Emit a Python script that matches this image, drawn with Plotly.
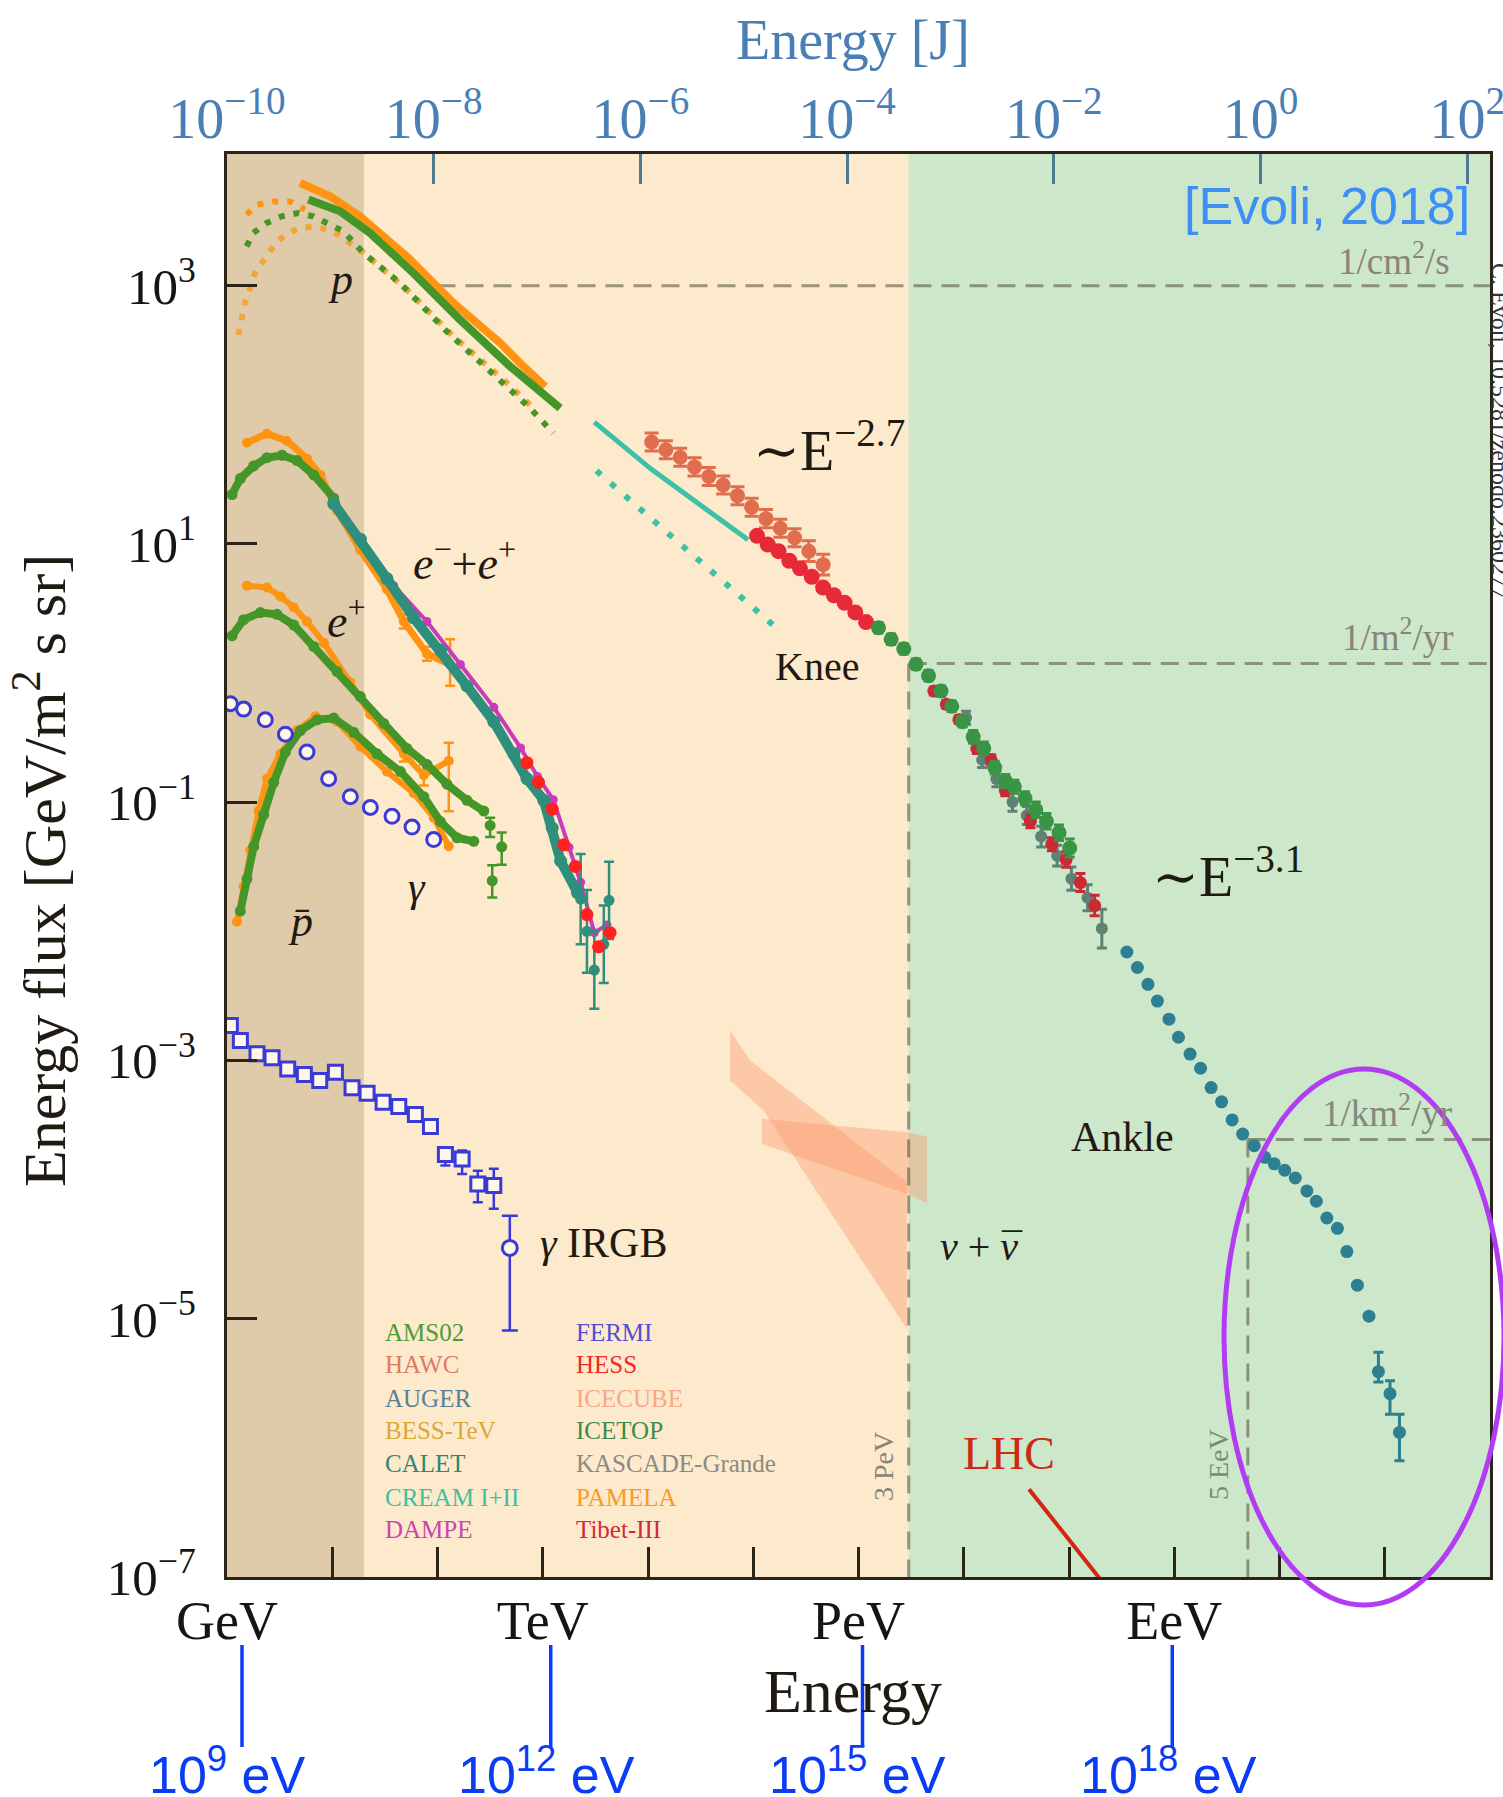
import numpy as np
import plotly.graph_objects as go

SERIF = "Liberation Serif, DejaVu Serif, serif"
SANS = "Liberation Sans, Arial, sans-serif"
INK = "#1f1a12"

# page size and plot frame (page pixels)
W, H = 1503, 1797
L, R, T, B = 227, 1490, 154, 1577
X_RANGE = [0, 12]        # log10(E / GeV)
Y_RANGE = [-7, 4.02]     # log10(energy flux)
J_RANGE = [-10, 2.22]    # log10(E / J) on the top axis


def px(x):
    return (x - L) / (R - L)


def py(y):
    return (B - y) / (B - T)


def xdec(lx):
    return (lx - X_RANGE[0]) / (X_RANGE[1] - X_RANGE[0])


# ---------------- data: log10(E/GeV), log10(E^2 F) ----------------
# protons
p_gold_dot_lx = [0.107, 0.171, 0.266, 0.44, 0.551, 0.694, 0.852, 1.05, 1.30, 1.708, 2.152, 2.627, 2.912]
p_gold_dot_ly = [2.62, 2.866, 3.098, 3.305, 3.395, 3.447, 3.46, 3.40, 3.253, 2.97, 2.607, 2.271, 2.052]
p_orange_dot_lx = [0.187, 0.282, 0.44, 0.60, 0.741]
p_orange_dot_ly = [3.55, 3.628, 3.653, 3.653, 3.589]
p_green_dot_lx = [0.187, 0.25, 0.377, 0.52, 0.678, 0.82, 0.948, 1.106, 1.296, 1.644, 2.088, 2.564, 2.88, 3.10]
p_green_dot_ly = [3.305, 3.408, 3.486, 3.537, 3.563, 3.537, 3.486, 3.421, 3.253, 3.021, 2.646, 2.297, 2.052, 1.858]
p_pamela_lx = [0.694, 0.979, 1.264, 1.708, 2.152, 2.595, 2.785, 3.023]
p_pamela_ly = [3.796, 3.692, 3.537, 3.227, 2.866, 2.556, 2.40, 2.219]
p_ams_lx = [0.773, 1.074, 1.359, 1.771, 2.215, 2.69, 3.165]
p_ams_ly = [3.667, 3.576, 3.408, 3.098, 2.736, 2.375, 2.052]

# CREAM protons (line) and dotted extension
cream_lx = [3.49, 3.75, 4.03, 4.5, 4.95]
cream_ly = [1.944, 1.77, 1.58, 1.30, 1.033]
cream_dot_lx = [3.51, 5.26]
cream_dot_ly = [1.567, 0.322]

# all-particle spectrum
hawc_lx = [4.035, 4.17, 4.306, 4.442, 4.578, 4.714, 4.85, 4.985, 5.121, 5.257, 5.393, 5.528, 5.664]
hawc_ly = [1.79, 1.73, 1.671, 1.597, 1.523, 1.457, 1.374, 1.285, 1.196, 1.122, 1.048, 0.944, 0.84]
hawc_err = [0.07, 0.07, 0.07, 0.07, 0.07, 0.07, 0.07, 0.07, 0.07, 0.07, 0.07, 0.08, 0.08]
red_lx = [5.036, 5.138, 5.24, 5.342, 5.444, 5.556, 5.664, 5.766, 5.868, 5.97, 6.072]
red_ly = [1.063, 0.995, 0.944, 0.87, 0.811, 0.746, 0.662, 0.603, 0.544, 0.47, 0.395]
icetop_lx = [6.19, 6.31, 6.43, 6.546, 6.665, 6.784, 6.886, 6.988, 7.09, 7.19, 7.294, 7.395, 7.48, 7.582, 7.684, 7.786, 7.905, 8.007]
icetop_ly = [0.351, 0.262, 0.188, 0.069, -0.02, -0.139, -0.257, -0.376, -0.494, -0.583, -0.732, -0.836, -0.88, -0.969, -1.058, -1.147, -1.236, -1.355]
icetop_err = [0.04, 0.04, 0.04, 0.04, 0.04, 0.04, 0.04, 0.04, 0.05, 0.05, 0.05, 0.05, 0.05, 0.05, 0.06, 0.06, 0.06, 0.07]
tibet_lx = [6.716, 6.835, 6.954, 7.124, 7.26, 7.395, 7.633, 7.837, 7.973, 8.108, 8.244]
tibet_ly = [-0.139, -0.242, -0.361, -0.583, -0.672, -0.91, -1.147, -1.325, -1.444, -1.622, -1.80]
tibet_err = [0.03, 0.03, 0.03, 0.04, 0.04, 0.04, 0.05, 0.05, 0.06, 0.07, 0.08]
kascade_lx = [7.022, 7.175, 7.31, 7.463, 7.599, 7.735, 7.887, 8.023, 8.176, 8.312]
kascade_ly = [-0.346, -0.672, -0.821, -0.999, -1.103, -1.266, -1.414, -1.592, -1.74, -1.978]
kascade_err = [0.05, 0.06, 0.06, 0.07, 0.07, 0.08, 0.08, 0.09, 0.1, 0.15]
auger_lx = [8.55, 8.65, 8.75, 8.84, 8.95, 9.04, 9.15, 9.25, 9.35, 9.45, 9.55, 9.65, 9.76, 9.86,
            9.95, 10.05, 10.15, 10.26, 10.35, 10.45, 10.55, 10.64, 10.74, 10.85, 10.94, 11.05, 11.14]
auger_ly = [-2.16, -2.28, -2.41, -2.54, -2.68, -2.82, -2.95, -3.06, -3.21, -3.32, -3.46, -3.57, -3.66, -3.75,
            -3.80, -3.85, -3.91, -4.01, -4.09, -4.22, -4.30, -4.48, -4.74, -4.98, -5.41, -5.58, -5.88]
auger_err_up = [0] * 24 + [0.15, 0.10, 0.14]
auger_err_dn = [0] * 24 + [0.08, 0.16, 0.22]

# electrons + positrons
ee_pamela_lx = [0.19, 0.38, 0.57, 0.76, 0.887, 1.046, 1.267, 1.52, 1.68, 1.90, 2.12]
ee_pamela_ly = [1.784, 1.853, 1.798, 1.66, 1.535, 1.258, 0.953, 0.649, 0.40, 0.15, 0.067]
ee_pamela_up = [0, 0, 0, 0, 0, 0, 0, 0, 0.055, 0.055, 0.195]
ee_pamela_dn = [0, 0, 0, 0, 0, 0, 0, 0, 0.055, 0.055, 0.165]
ee_ams_lx = [0.048, 0.127, 0.253, 0.38, 0.523, 0.665, 0.824, 1.014]
ee_ams_ly = [1.383, 1.507, 1.604, 1.668, 1.687, 1.646, 1.535, 1.355]
ee_calet_lx = [1.014, 1.267, 1.52, 1.774, 2.028, 2.28, 2.535, 2.725, 2.85, 3.01, 3.09, 3.17, 3.33]
ee_calet_ly = [1.313, 1.037, 0.732, 0.428, 0.178, -0.10, -0.376, -0.625, -0.818, -0.985, -1.2, -1.455, -1.70]
ee_tail_lx = [3.36, 3.42, 3.49, 3.58, 3.63]
ee_tail_ly = [-1.75, -2.0, -2.3, -2.1, -1.76]
ee_tail_err = [0.35, 0.32, 0.3, 0.3, 0.3]
ee_dampe_lx = [1.584, 1.90, 2.218, 2.535, 2.79, 2.95, 3.10, 3.25, 3.36, 3.49, 3.61]
ee_dampe_ly = [0.677, 0.40, 0.067, -0.265, -0.58, -0.80, -0.98, -1.35, -1.62, -2.01, -1.95]
ee_hess_lx = [2.85, 2.96, 3.09, 3.2, 3.31, 3.42, 3.53, 3.64]
ee_hess_ly = [-0.694, -0.846, -1.054, -1.33, -1.497, -1.87, -2.12, -2.01]

ep_pamela_lx = [0.19, 0.38, 0.507, 0.634, 0.76, 0.92, 1.17, 1.36, 1.68, 1.87, 2.107]
ep_pamela_ly = [0.677, 0.663, 0.593, 0.51, 0.40, 0.234, -0.07, -0.32, -0.625, -0.79, -0.68]
ep_pamela_up = [0, 0, 0, 0, 0, 0, 0, 0, 0.06, 0.08, 0.14]
ep_pamela_dn = [0, 0, 0, 0, 0, 0, 0, 0, 0.06, 0.08, 0.39]
ep_ams_lx = [0.048, 0.158, 0.317, 0.475, 0.634, 0.824, 1.046, 1.267, 1.49, 1.71, 1.90, 2.09, 2.28, 2.44]
ep_ams_ly = [0.289, 0.414, 0.469, 0.455, 0.372, 0.206, 0.012, -0.182, -0.39, -0.583, -0.708, -0.86, -0.985, -1.068]
ep_ams_tail_lx = [2.50, 2.61, 2.52]
ep_ams_tail_ly = [-1.18, -1.345, -1.608]
ep_ams_tail_up = [0.06, 0.11, 0.12]
ep_ams_tail_dn = [0.09, 0.14, 0.13]

# antiprotons
pb_pamela_lx = [0.095, 0.158, 0.222, 0.30, 0.38, 0.507, 0.665, 0.84, 1.046, 1.267, 1.52, 1.774, 1.964, 2.107]
pb_pamela_ly = [-1.926, -1.65, -1.372, -1.067, -0.818, -0.625, -0.445, -0.334, -0.376, -0.57, -0.763, -0.93, -1.12, -1.34]
pb_ams_lx = [0.127, 0.19, 0.253, 0.349, 0.444, 0.555, 0.697, 0.856, 1.014, 1.204, 1.426, 1.648, 1.87, 2.028, 2.186, 2.345]
pb_ams_ly = [-1.843, -1.594, -1.344, -1.095, -0.846, -0.611, -0.445, -0.362, -0.348, -0.459, -0.625, -0.763, -0.957, -1.15, -1.275, -1.303]

# diffuse gamma rays (FERMI)
fermi_lx = [0.032, 0.158, 0.364, 0.555, 0.76, 0.966, 1.172, 1.362, 1.568, 1.758, 1.964]
fermi_ly = [-0.237, -0.279, -0.362, -0.473, -0.611, -0.818, -0.957, -1.04, -1.109, -1.192, -1.289]
irgb_lx = [0.032, 0.127, 0.285, 0.428, 0.577, 0.735, 0.881, 1.03, 1.188, 1.331, 1.483, 1.632, 1.79, 1.933, 2.075, 2.234, 2.383, 2.535]
irgb_ly = [-2.729, -2.845, -2.948, -2.979, -3.065, -3.109, -3.155, -3.091, -3.212, -3.253, -3.323, -3.357, -3.419, -3.512, -3.729, -3.762, -3.956, -3.969]
irgb_up = [0] * 14 + [0.057, 0.064, 0.103, 0.13]
irgb_dn = [0] * 14 + [0.085, 0.117, 0.142, 0.18]
irgb_last_lx = [2.687]
irgb_last_ly = [-4.452]
irgb_last_up = [0.25]
irgb_last_dn = [0.64]

# neutrino flux bands (ICECUBE)
nu_a_lx = [4.781, 4.971, 6.46, 6.46, 5.098, 4.781]
nu_a_ly = [-2.768, -3.0, -3.943, -5.08, -3.388, -3.155]
nu_b_lx = [5.082, 6.46, 6.65, 6.65, 6.46, 5.082]
nu_b_ly = [-3.452, -3.556, -3.589, -4.106, -4.034, -3.646]

# LHC equivalent energy line
lhc_lx = [7.62, 8.30]
lhc_ly = [-6.32, -7.02]

# reference flux levels: (start log10 E, log10 flux)
lvl_cm2s = (2.0, 3.0)
lvl_m2yr = (6.477, 0.075)
lvl_km2yr = (9.699, -3.611)

legend_left = [("AMS02", "#4f9a33"), ("HAWC", "#de7a5e"), ("AUGER", "#5a7f95"),
               ("BESS-TeV", "#d9a934"), ("CALET", "#2f8770"), ("CREAM I+II", "#40bfa0"),
               ("DAMPE", "#cc44b0")]
legend_right = [("FERMI", "#5050d8"), ("HESS", "#f02828"), ("ICECUBE", "#f7a886"),
                ("ICETOP", "#3f8a45"), ("KASCADE-Grande", "#8a8a84"), ("PAMELA", "#f99a24"),
                ("Tibet-III", "#d02838")]

bottom_labels = ["GeV", "", "", "TeV", "", "", "PeV", "", "", "EeV", "", "", ""]
ev_marks = [1e9, 1e12, 1e15, 1e18]
ev_texts = ["10<sup>9</sup> eV", "10<sup>12</sup> eV", "10<sup>15</sup> eV", "10<sup>18</sup> eV"]

# ---------------- colours ----------------
C_TAN = "#dfcaa9"
C_PEACH = "#fdeacd"
C_GREEN = "#cce7ca"
C_AMS = "#449628"
C_PAM = "#ff9412"
C_GOLD = "#f2a53a"
C_CREAM = "#3cc0a8"
C_CALET = "#2e8f7c"
C_DAMPE = "#c83cb8"
C_HESS = "#ff2020"
C_HAWC = "#e06e4e"
C_RED = "#e62a38"
C_ICETOP = "#3a9446"
C_TIBET = "#c82a36"
C_KAS = "#5e8276"
C_AUGER = "#2d7f92"
C_FERMI = "#3a3ad6"
C_NU = "rgba(249,150,105,0.40)"
C_REF = "rgba(95,90,70,0.6)"

fig = go.Figure()


def P(v):
    return np.power(10.0, np.asarray(v, dtype=float))


def err(ly, up, dn, color, thick=2.5, width=5):
    f = P(ly)
    return dict(type="data", symmetric=False,
                array=f * (P(up) - 1.0), arrayminus=f * (1.0 - P(-np.asarray(dn, dtype=float))),
                color=color, thickness=thick, width=width)


def add(lx, ly, color, mode="markers", size=10, width=6, dash=None, symbol="circle",
        fillc=None, lcol=None, lw=0, error=None):
    m = dict(color=fillc or color, size=size, symbol=symbol,
             line=dict(color=lcol or color, width=lw))
    fig.add_trace(go.Scatter(x=P(lx), y=P(ly), mode=mode, marker=m,
                             line=dict(color=color, width=width, dash=dash),
                             error_y=error, hoverinfo="skip", showlegend=False))


# neutrino bands
for bx, by in [(nu_a_lx, nu_a_ly), (nu_b_lx, nu_b_ly)]:
    fig.add_trace(go.Scatter(x=P(bx), y=P(by), mode="lines", fill="toself", fillcolor=C_NU,
                             line=dict(width=0), hoverinfo="skip", showlegend=False))

# reference levels
x_end = X_RANGE[1]
for lx0, ly0 in [lvl_cm2s, lvl_m2yr, lvl_km2yr]:
    fig.add_trace(go.Scatter(x=P([lx0, x_end]), y=P([ly0, ly0]), mode="lines",
                             line=dict(color=C_REF, width=3, dash="18px,10px"),
                             hoverinfo="skip", showlegend=False))
for lx0, ly0 in [lvl_m2yr, lvl_km2yr]:
    fig.add_trace(go.Scatter(x=P([lx0, lx0]), y=P([ly0, Y_RANGE[0]]), mode="lines",
                             line=dict(color=C_REF, width=3, dash="18px,10px"),
                             hoverinfo="skip", showlegend=False))

# LHC
add(lhc_lx, lhc_ly, "#d42412", mode="lines", width=4)

# protons
dots = "6px,9px"
add(p_gold_dot_lx, p_gold_dot_ly, C_GOLD, mode="lines", width=6, dash=dots)
add(p_green_dot_lx, p_green_dot_ly, C_AMS, mode="lines", width=6, dash=dots)
add(p_orange_dot_lx, p_orange_dot_ly, C_PAM, mode="lines", width=6, dash=dots)
add(p_pamela_lx, p_pamela_ly, C_PAM, mode="lines", width=8)
add(p_ams_lx, p_ams_ly, C_AMS, mode="lines", width=8)
add(cream_lx, cream_ly, C_CREAM, mode="lines", width=5)
add(cream_dot_lx, cream_dot_ly, C_CREAM, mode="lines", width=6, dash="6px,13px")

# all-particle
add(hawc_lx, hawc_ly, C_HAWC, size=15, error=err(hawc_ly, hawc_err, hawc_err, C_HAWC, thick=3, width=7))
add(red_lx, red_ly, C_RED, size=16)
add(kascade_lx, kascade_ly, C_KAS, size=12, error=err(kascade_ly, kascade_err, kascade_err, C_KAS, thick=3))
add(tibet_lx, tibet_ly, C_TIBET, size=13, error=err(tibet_ly, tibet_err, tibet_err, C_TIBET, thick=3))
add(icetop_lx, icetop_ly, C_ICETOP, size=15, error=err(icetop_ly, icetop_err, icetop_err, C_ICETOP, thick=3))
add(auger_lx, auger_ly, C_AUGER, size=13, error=err(auger_ly, auger_err_up, auger_err_dn, C_AUGER, thick=3))

# antiprotons
add(pb_pamela_lx, pb_pamela_ly, C_PAM, mode="lines+markers", size=10, width=6)
add(pb_ams_lx, pb_ams_ly, C_AMS, mode="lines+markers", size=11, width=8)

# positrons
add(ep_pamela_lx, ep_pamela_ly, C_PAM, mode="lines+markers", size=10, width=6,
    error=err(ep_pamela_ly, ep_pamela_up, ep_pamela_dn, C_PAM))
add(ep_ams_lx, ep_ams_ly, C_AMS, mode="lines+markers", size=11, width=8)
add(ep_ams_tail_lx, ep_ams_tail_ly, C_AMS, size=11,
    error=err(ep_ams_tail_ly, ep_ams_tail_up, ep_ams_tail_dn, C_AMS))

# electrons + positrons
add(ee_pamela_lx, ee_pamela_ly, C_PAM, mode="lines+markers", size=10, width=7,
    error=err(ee_pamela_ly, ee_pamela_up, ee_pamela_dn, C_PAM))
add(ee_ams_lx, ee_ams_ly, C_AMS, mode="lines+markers", size=11, width=8)
add(ee_dampe_lx, ee_dampe_ly, C_DAMPE, mode="lines+markers", size=9, width=4)
add(ee_calet_lx, ee_calet_ly, C_CALET, mode="lines+markers", size=13, width=10)
add(ee_tail_lx, ee_tail_ly, C_CALET, size=11, error=err(ee_tail_ly, ee_tail_err, ee_tail_err, C_CALET))
add(ee_hess_lx, ee_hess_ly, C_HESS, size=13)

# gamma rays
add(fermi_lx, fermi_ly, C_FERMI, size=14, fillc="#fff6ea", lcol=C_FERMI, lw=3)
add(irgb_lx, irgb_ly, C_FERMI, size=14, symbol="square", fillc="#fff6ea", lcol=C_FERMI, lw=3,
    error=err(irgb_ly, irgb_up, irgb_dn, C_FERMI))
add(irgb_last_lx, irgb_last_ly, C_FERMI, size=15, fillc="#fff6ea", lcol=C_FERMI, lw=3,
    error=err(irgb_last_ly, irgb_last_up, irgb_last_dn, C_FERMI, width=8))

# empty trace to carry the top (joule) axis
fig.add_trace(go.Scatter(x=[1e-5], y=[1.0], xaxis="x2", mode="markers",
                         marker=dict(opacity=0), hoverinfo="skip", showlegend=False))

# ---------------- background bands ----------------
shapes = []
for x0, x1, c in [(X_RANGE[0], 1.301, C_TAN), (1.301, 6.477, C_PEACH), (6.477, X_RANGE[1], C_GREEN)]:
    shapes.append(dict(type="rect", xref="paper", yref="paper", x0=xdec(x0), x1=xdec(x1),
                       y0=0, y1=1, fillcolor=c, line=dict(width=0), layer="below"))

# ellipse highlighting the highest energies
shapes.append(dict(type="circle", xref="paper", yref="paper", x0=px(1224), x1=px(1504),
                   y0=py(1605), y1=py(1069), line=dict(color="#b23cf4", width=5), layer="above"))

# blue energy markers under the axis
ev_line_shift = [15, 8, 4, -2]
ev_text_shift = [0, 4, -1, -6]
for ev, sh in zip(ev_marks, ev_line_shift):
    xp = xdec(np.log10(ev / 1e9)) + sh / (R - L)
    shapes.append(dict(type="line", xref="paper", yref="paper", x0=xp, x1=xp,
                       y0=py(1747), y1=py(1645), line=dict(color="#0b3cf5", width=3.5)))

ann = []


def text(x, y, s, size, color=INK, family=SERIF, xanchor="center", yanchor="middle", angle=0):
    ann.append(dict(x=px(x), y=py(y), xref="paper", yref="paper", text=s, showarrow=False,
                    xanchor=xanchor, yanchor=yanchor, textangle=angle,
                    font=dict(family=family, size=size, color=color)))


for ev, s, sh in zip(ev_marks, ev_texts, ev_text_shift):
    ann.append(dict(x=xdec(np.log10(ev / 1e9)) + sh / (R - L), y=py(1771), xref="paper",
                    yref="paper", text=s, showarrow=False, xanchor="center", yanchor="middle",
                    font=dict(family=SANS, size=52, color="#0b3cf5")))

# titles
text(853, 40, "Energy [J]", 56, color="#4a7fb6")
text(853, 1691, "Energy", 62)
text(40, 871, "Energy flux [GeV/m<sup>2</sup> s sr]", 60, angle=-90)
text(1500, 431, "C. Evoli, 10.5281/zenodo.2360277", 24, color="#333333", angle=90)
text(1472, 206, "[Evoli, 2018]", 52, color="#3d8ef5", family=SANS, xanchor="right")

# curve labels
text(340, 279, "<i>p</i>", 44)
text(751, 446, "∼E<sup>−2.7</sup>", 56, xanchor="left")
text(1150, 872, "∼E<sup>−3.1</sup>", 56, xanchor="left")
text(464, 560, "<i>e</i><sup>−</sup>+<i>e</i><sup>+</sup>", 46)
text(346, 618, "<i>e</i><sup>+</sup>", 46)
text(817, 666, "Knee", 40)
text(417, 887, "<i>γ</i>", 42)
text(300, 921, "<i>p\u0304</i>", 44)
text(1122, 1137, "Ankle", 42)
text(979, 1246, "<i>ν</i> + <i>ν</i>", 40)
text(1012, 1247, "\u00af", 40)
text(603, 1243, "<i>γ</i> IRGB", 42)
text(1009, 1453, "LHC", 46, color="#cc2a12")
text(883, 1467, "3 PeV", 28, color="#8a8276", angle=-90)
text(1218, 1465, "5 EeV", 28, color="#7e8a78", angle=-90)
text(1452, 258, "1/cm<sup>2</sup>/s", 37, color="#8a8478", xanchor="right")
text(1456, 634, "1/m<sup>2</sup>/yr", 37, color="#8a8478", xanchor="right")
text(1454, 1110, "1/km<sup>2</sup>/yr", 37, color="#808a7c", xanchor="right")

# experiment key
rows = [1332, 1364, 1398, 1430, 1463, 1497, 1529]
for (name, c), y in zip(legend_left, rows):
    text(383, y, name, 25, color=c, xanchor="left")
for (name, c), y in zip(legend_right, rows):
    text(574, y, name, 25, color=c, xanchor="left")

y_ticks = [3, 1, -1, -3, -5, -7]
j_ticks = [-10, -8, -6, -4, -2, 0, 2]


def pow_label(p):
    return "10<sup>" + ("−" if p < 0 else "") + str(abs(p)) + "</sup>"


fig.update_layout(
    width=W, height=H,
    margin=dict(l=L, r=W - R, t=T, b=H - B, pad=0, autoexpand=False),
    paper_bgcolor="white", plot_bgcolor=C_PEACH,
    shapes=shapes, annotations=ann, showlegend=False,
    xaxis=dict(type="log", range=X_RANGE, showgrid=False, zeroline=False, automargin=False,
               tickvals=[10.0 ** k for k in range(X_RANGE[0], X_RANGE[1] + 1)],
               ticktext=bottom_labels, ticks="inside", ticklen=30, tickwidth=2.5,
               tickcolor="#2b2418", showline=True, linecolor="#2b2418", linewidth=3,
               mirror=True, ticklabelstandoff=-6,
               tickfont=dict(family=SERIF, size=54, color="#151515")),
    xaxis2=dict(type="log", range=J_RANGE, overlaying="x", side="top", anchor="y",
                showgrid=False, zeroline=False, showline=False, automargin=False,
                tickvals=[10.0 ** k for k in j_ticks], ticktext=[pow_label(k) for k in j_ticks],
                ticks="inside", ticklen=30, tickwidth=2.5, tickcolor="#4e7a8e",
                ticklabelstandoff=4, ticklabeloverflow="allow",
                tickfont=dict(family=SERIF, size=56, color="#4a7fb6")),
    yaxis=dict(type="log", range=Y_RANGE, showgrid=False, zeroline=False, automargin=False,
               tickvals=[10.0 ** k for k in y_ticks], ticktext=[pow_label(k) for k in y_ticks],
               ticks="inside", ticklen=30, tickwidth=2.5, tickcolor="#2b2418",
               showline=True, linecolor="#2b2418", linewidth=3, mirror=True,
               ticklabelstandoff=18,
               tickfont=dict(family=SERIF, size=51, color="#151515")),
)

fig.write_html("out.html")
